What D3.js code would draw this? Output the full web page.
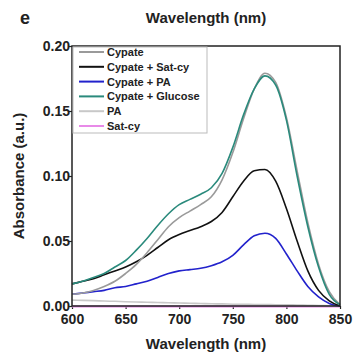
<!DOCTYPE html>
<html><head><meta charset="utf-8">
<script src="https://cdn.jsdelivr.net/npm/d3@7/dist/d3.min.js"></script>
<style>body{margin:0;background:#fff;}svg text{font-family:"Liberation Sans",Arial,sans-serif;font-weight:bold;fill:#222;}</style>
</head><body>
<script>
const wavelengths = [600,610,620,630,640,650,660,670,680,690,700,710,720,730,740,750,760,770,780,790,800,810,820,830,840,850];
const cypate = [0.009,0.010,0.012,0.015,0.019,0.025,0.032,0.041,0.051,0.061,0.068,0.073,0.078,0.084,0.097,0.118,0.144,0.167,0.179,0.172,0.145,0.104,0.064,0.032,0.011,0.001];
const cypateSatcy = [0.017,0.019,0.021,0.024,0.027,0.030,0.034,0.039,0.045,0.051,0.055,0.058,0.061,0.065,0.072,0.084,0.096,0.104,0.105,0.096,0.075,0.050,0.027,0.012,0.004,0.000];
const cypatePA = [0.009,0.010,0.011,0.012,0.014,0.015,0.017,0.019,0.022,0.025,0.027,0.028,0.029,0.031,0.034,0.039,0.047,0.054,0.056,0.052,0.040,0.027,0.015,0.007,0.002,0.000];
const cypateGlucose = [0.017,0.019,0.022,0.025,0.030,0.035,0.043,0.052,0.062,0.071,0.078,0.082,0.086,0.091,0.102,0.122,0.147,0.167,0.177,0.170,0.143,0.100,0.061,0.030,0.009,0.001];
const pa = [0.0045,0.0043,0.0041,0.0038,0.0036,0.0033,0.0031,0.0029,0.0027,0.0025,0.0023,0.0021,0.0019,0.0017,0.0016,0.0014,0.0013,0.0012,0.0011,0.0010,0.0009,0.0008,0.0006,0.0004,0.0002,0.0000];
const satcy = [-0.0004,-0.0004,-0.0004,-0.0004,-0.0004,-0.0004,-0.0004,-0.0004,-0.0004,-0.0004,-0.0004,-0.0004,-0.0004,-0.0004,-0.0004,-0.0004,-0.0004,-0.0004,-0.0004,-0.0004,-0.0004,-0.0004,-0.0004,-0.0004,-0.0004,-0.0004];
const seriesNames = ["Cypate","Cypate + Sat-cy","Cypate + PA","Cypate + Glucose","PA","Sat-cy"];
const seriesColors = ["#9a9a9a","#111111","#2222cc","#2a8a7c","#c8c8c8","#e88ae8"];
const xTicks = [600,650,700,750,800,850];
const yTicks = [0.00,0.05,0.10,0.15,0.20];

const W=353,H=358;
const m={left:72,top:46,right:13,bottom:52};
const svg=d3.select("body").append("svg").attr("width",W).attr("height",H);
const x=d3.scaleLinear().domain([600,850]).range([m.left,W-m.right]);
const y=d3.scaleLinear().domain([0,0.20]).range([H-m.bottom,m.top]);
const allSeries=[cypate,cypateSatcy,cypatePA,cypateGlucose,pa,satcy];

// axes
const xAxis=svg.append("g").attr("transform",`translate(0,${H-m.bottom})`)
  .call(d3.axisBottom(x).tickValues(xTicks).tickSize(3).tickFormat(d3.format("d")));
const yAxis=svg.append("g").attr("transform",`translate(${m.left},0)`)
  .call(d3.axisLeft(y).tickValues(yTicks).tickSize(3).tickFormat(d3.format(".2f")));
[xAxis,yAxis].forEach(g=>{g.select(".domain").remove();g.selectAll("line").attr("stroke","#222").attr("stroke-width",1.2);g.selectAll("text").style("font-size","14px").attr("fill","#222");});
xAxis.selectAll("text").attr("y",8).attr("dy","0.71em");
yAxis.selectAll("text").attr("x",-2).attr("dx","0").attr("dy","0.3em");

// lines
const line=d3.line().x((d,i)=>x(wavelengths[i])).y(d=>y(d)).curve(d3.curveMonotoneX);
const drawOrder=[5,4,2,1,0,3];
drawOrder.forEach(k=>{
  svg.append("path").datum(allSeries[k]).attr("d",line).attr("fill","none")
    .attr("stroke",seriesColors[k]).attr("stroke-width",k===5?2:1.6);
});

// frame
svg.append("rect").attr("x",m.left).attr("y",m.top).attr("width",W-m.left-m.right).attr("height",H-m.top-m.bottom)
  .attr("fill","none").attr("stroke","#222").attr("stroke-width",1.5);

// legend
const lg=svg.append("g");
lg.append("rect").attr("x",m.left+1).attr("y",m.top+1).attr("width",134).attr("height",86).attr("fill","#fff").attr("stroke","#bbb").attr("stroke-width",1);
seriesNames.forEach((n,i)=>{
  const yy=m.top+6+i*14.8;
  lg.append("line").attr("x1",79).attr("x2",104).attr("y1",yy).attr("y2",yy).attr("stroke",seriesColors[i]).attr("stroke-width",2);
  lg.append("text").attr("x",107).attr("y",yy+4).text(n).style("font-size","11px");
});

// titles
svg.append("text").attr("x",(m.left+W-m.right)/2).attr("y",H-9).attr("text-anchor","middle").style("font-size","15px").text("Wavelength (nm)");
svg.append("text").attr("x",(m.left+W-m.right)/2).attr("y",23).attr("text-anchor","middle").style("font-size","15px").text("Wavelength (nm)");
svg.append("text").attr("transform",`translate(24,${(m.top+H-m.bottom)/2}) rotate(-90)`).attr("text-anchor","middle").style("font-size","15px").text("Absorbance (a.u.)");
svg.append("text").attr("x",20).attr("y",24).style("font-size","18px").text("e");
</script>
</body></html>
